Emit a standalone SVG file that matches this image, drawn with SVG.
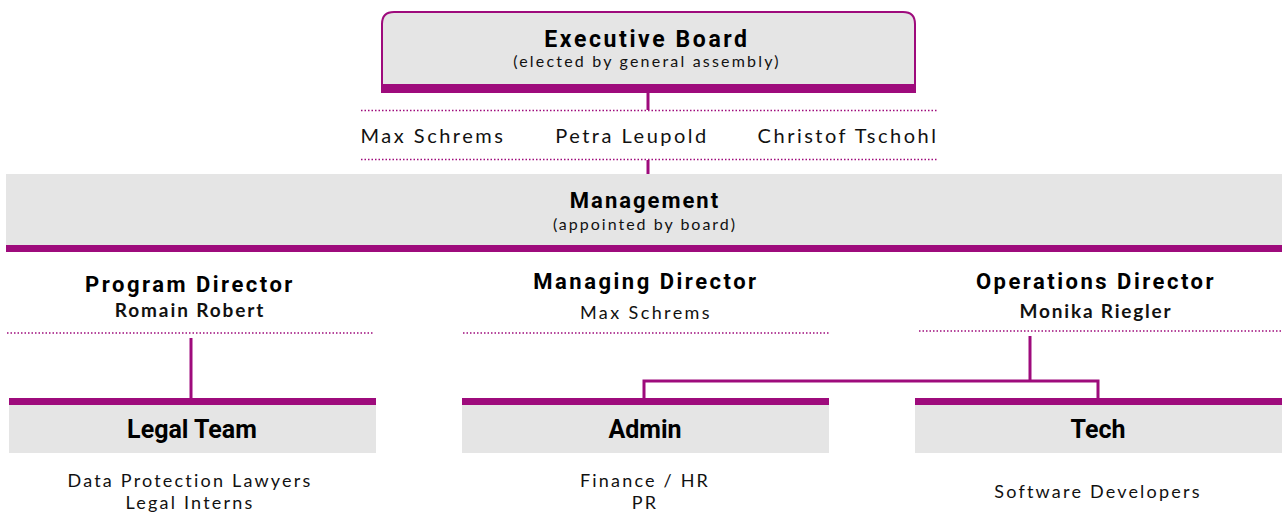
<svg xmlns="http://www.w3.org/2000/svg" width="1282" height="512" viewBox="0 0 1282 512">
<style>
.box{fill:#e5e5e5}
.bar{fill:#9e0b7c}
.ln{stroke:#9e0b7c;stroke-width:3;fill:none}
.dot{stroke:#9e0b7c;stroke-width:1.5;stroke-dasharray:1.5 2;fill:none}
.t{font-family:Roboto,"Liberation Sans",sans-serif;font-weight:bold;fill:#000;text-anchor:middle}
.s{font-family:Lato,"Open Sans",sans-serif;fill:#111;text-anchor:middle}
.sb{font-family:Lato,"Open Sans",sans-serif;font-weight:bold;fill:#111;text-anchor:middle}
.dir{font-size:22px;letter-spacing:2.5px}
.unit{font-size:25px}
.sub{font-size:18px;letter-spacing:2.2px}
</style>
<rect width="1282" height="512" fill="#fff"/>
<g id="connectors">
<line class="ln" x1="648" y1="92" x2="648" y2="110"/>
<line class="ln" x1="648" y1="160" x2="648" y2="175"/>
<line class="dot" x1="361" y1="110.5" x2="937" y2="110.5"/>
<line class="dot" x1="361" y1="159.5" x2="937" y2="159.5"/>
<line class="dot" x1="7" y1="333" x2="374" y2="333"/>
<line class="dot" x1="463" y1="333" x2="829" y2="333"/>
<line class="dot" x1="919" y1="331" x2="1282" y2="331"/>
<line class="ln" x1="191" y1="338" x2="191" y2="399"/>
<line class="ln" x1="1030" y1="336" x2="1030" y2="381"/>
<polyline class="ln" points="644,399 644,381 1098,381 1098,399"/>
</g>
<g id="executive-board">
<path d="M382,92 V24 Q382,12 394,12 H903 Q915,12 915,24 V92 Z" fill="#e5e5e5" stroke="#9e0b7c" stroke-width="2"/>
<rect class="bar" x="381" y="84" width="535" height="8"/>
<text class="t" x="647" y="47" font-size="23" letter-spacing="2.6">Executive Board</text>
<text class="s" x="647" y="67" font-size="16" letter-spacing="2.2">(elected by general assembly)</text>
</g>
<g id="board-members">
<text class="s" x="433" y="143" font-size="20" letter-spacing="2.5">Max Schrems</text>
<text class="s" x="632" y="143" font-size="20" letter-spacing="2.5">Petra Leupold</text>
<text class="s" x="848" y="143" font-size="20" letter-spacing="2.5">Christof Tschohl</text>
</g>
<g id="management">
<rect class="box" x="6" y="174" width="1276" height="78"/>
<rect class="bar" x="6" y="245" width="1276" height="7"/>
<text class="t" x="645" y="208" font-size="22" letter-spacing="2">Management</text>
<text class="s" x="645" y="230" font-size="16" letter-spacing="2">(appointed by board)</text>
</g>
<g id="program-director">
<text class="t dir" x="190" y="292">Program Director</text>
<text class="sb" x="190" y="317" font-size="19" letter-spacing="1.9">Romain Robert</text>
</g>
<g id="managing-director">
<text class="t dir" x="646" y="289">Managing Director</text>
<text class="s" x="646" y="319" font-size="18" letter-spacing="2.4">Max Schrems</text>
</g>
<g id="operations-director">
<text class="t dir" x="1096" y="289">Operations Director</text>
<text class="sb" x="1096" y="318" font-size="19" letter-spacing="1.8">Monika Riegler</text>
</g>
<g id="legal-team">
<rect class="box" x="9" y="398" width="367" height="55"/>
<rect class="bar" x="9" y="398" width="367" height="7"/>
<text class="t unit" x="192" y="438">Legal Team</text>
<text class="s sub" x="190" y="487">Data Protection Lawyers</text>
<text class="s sub" x="190" y="509">Legal Interns</text>
</g>
<g id="admin">
<rect class="box" x="462" y="398" width="367" height="55"/>
<rect class="bar" x="462" y="398" width="367" height="7"/>
<text class="t unit" x="645" y="438">Admin</text>
<text class="s sub" x="645" y="487">Finance / HR</text>
<text class="s sub" x="645" y="509">PR</text>
</g>
<g id="tech">
<rect class="box" x="915" y="398" width="367" height="55"/>
<rect class="bar" x="915" y="398" width="367" height="7"/>
<text class="t unit" x="1098" y="438">Tech</text>
<text class="s sub" x="1098" y="498">Software Developers</text>
</g>
</svg>
